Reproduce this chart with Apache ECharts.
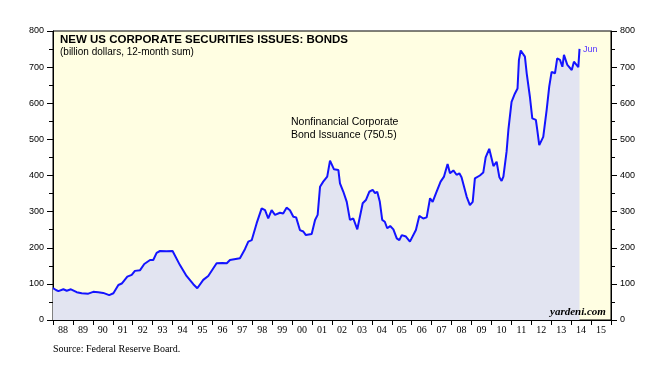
<!DOCTYPE html>
<html>
<head>
<meta charset="utf-8">
<script src="https://cdn.jsdelivr.net/npm/echarts@6/dist/echarts.min.js"></script>
<style>
html,body{margin:0;padding:0;background:#fff;}
#c{width:664px;height:369px;}
</style>
</head>
<body>
<div id="c"></div>
<script>
// Time (decimal year) of each reading
var dates = [1988.00,1988.15,1988.27,1988.52,1988.69,1988.90,1989.19,1989.44,1989.77,1990.02,
1990.27,1990.52,1990.82,1991.03,1991.28,1991.45,1991.73,1991.95,1992.11,1992.37,
1992.58,1992.87,1993.03,1993.20,1993.37,1993.70,1994.00,1994.37,1994.70,1995.04,
1995.24,1995.54,1995.79,1996.21,1996.50,1996.72,1996.88,1997.38,1997.47,1997.63,
1997.80,1997.97,1998.22,1998.47,1998.64,1998.80,1998.97,1999.14,1999.39,1999.55,
1999.72,1999.89,2000.06,2000.20,2000.39,2000.56,2000.69,2000.98,2001.15,2001.28,
2001.40,2001.56,2001.76,2001.90,2001.98,2002.10,2002.32,2002.40,2002.57,2002.74,
2002.90,2003.07,2003.27,2003.54,2003.70,2003.87,2004.04,2004.16,2004.27,2004.40,
2004.52,2004.65,2004.77,2004.92,2005.08,2005.25,2005.38,2005.50,2005.71,2005.91,
2006.00,2006.21,2006.38,2006.58,2006.75,2006.92,2007.05,2007.22,2007.45,2007.62,
2007.80,2007.92,2008.09,2008.25,2008.39,2008.50,2008.76,2008.92,2009.06,2009.17,
2009.26,2009.42,2009.59,2009.71,2009.80,2009.89,2009.98,2010.10,2010.26,2010.40,
2010.51,2010.60,2010.76,2010.85,2011.01,2011.18,2011.31,2011.38,2011.47,2011.57,
2011.68,2011.77,2011.93,2012.05,2012.13,2012.23,2012.30,2012.40,2012.49,2012.60,
2012.77,2012.90,2013.02,2013.19,2013.30,2013.44,2013.56,2013.64,2013.74,2013.81,
2013.91,2014.03,2014.14,2014.24,2014.36,2014.42];
// Nonfinancial corporate bond issuance, billion dollars, 12-month sum
var bonds = [88,83,80,85,81,85,77,74,73,78,
77,75,69,74,97,101,120,125,136,138,
155,166,166,186,191,190,191,152,122,99,
88,111,122,157,158,157,166,171,180,196,
217,221,268,309,304,281,304,291,297,295,
311,304,286,284,249,245,235,238,277,291,
369,383,397,441,443,417,415,378,355,327,
277,281,251,323,332,355,360,351,355,327,
277,272,254,260,251,226,221,235,231,217,
217,249,288,281,284,337,327,351,383,397,
432,406,414,402,406,395,341,318,327,392,
388,400,408,450,452,474,474,426,438,395,
385,397,466,526,604,627,641,720,746,746,
729,683,618,558,563,554,526,484,484,507,
581,646,687,683,724,720,701,734,729,706,
711,692,715,711,700,750.5];
var yearLabels = ['88','89','90','91','92','93','94','95','96','97','98','99',
'00','01','02','03','04','05','06','07','08','09','10','11','12','13','14','15'];
var yTicks = {min:0, max:800, interval:100};

var pts = dates.map(function(d,i){return [d, bonds[i]];});

var chart = echarts.init(document.getElementById('c'), null, {renderer:'canvas'});
var yAxisCommon = {
  type:'value', min:yTicks.min, max:yTicks.max, interval:yTicks.interval,
  axisLine:{show:true, lineStyle:{color:'#000', width:1}},
  axisTick:{show:true, length:6, lineStyle:{color:'#000'}},
  minorTick:{show:true, splitNumber:2, length:4, lineStyle:{color:'#000'}},
  splitLine:{show:false},
  axisLabel:{color:'#000', fontFamily:'Liberation Sans, Arial', fontSize:9, margin:9}
};
chart.setOption({
  animation:false,
  backgroundColor:'#fff',
  grid:{left:53, right:53, top:31, bottom:49, show:true, backgroundColor:'#fffee2', borderColor:'#000', borderWidth:1},
  xAxis:[
    {type:'value', min:1988, max:2016, show:false},
    {type:'category', data:yearLabels, boundaryGap:true, position:'bottom',
     axisLine:{show:true, lineStyle:{color:'#000'}},
     axisTick:{show:true, length:5, lineStyle:{color:'#000'}},
     axisLabel:{color:'#000', fontFamily:'Liberation Serif, Times New Roman', fontSize:10, margin:5},
     splitLine:{show:false}}
  ],
  yAxis:[
    Object.assign({position:'left'}, yAxisCommon),
    Object.assign({position:'right'}, yAxisCommon)
  ],
  series:[{
    type:'line', xAxisIndex:0, yAxisIndex:0, data:pts, showSymbol:false,
    lineStyle:{color:'#1414ff', width:2},
    areaStyle:{color:'#e2e4f1', opacity:1, origin:'start'},
    z:3
  }],
  graphic:[
    {type:'text', z:100, left:60, top:34, style:{text:'NEW US CORPORATE SECURITIES ISSUES: BONDS', font:'bold 11.5px Liberation Sans, Arial', fill:'#000'}},
    {type:'text', z:100, left:60, top:47, style:{text:'(billion dollars, 12-month sum)', font:'10px Liberation Sans, Arial', fill:'#000'}},
    {type:'text', z:100, left:291, top:116, style:{text:'Nonfinancial Corporate\nBond Issuance (750.5)', font:'10.5px Liberation Sans, Arial', lineHeight:13, fill:'#000'}},
    {type:'text', z:100, left:583, top:45, style:{text:'Jun', font:'9px Liberation Sans, Arial', fill:'#5533ff'}},
    {type:'text', z:100, left:550, top:307, style:{text:'yardeni.com', font:'italic bold 11px Liberation Serif, Times New Roman', fill:'#000'}},
    {type:'text', z:100, left:53, top:344, style:{text:'Source: Federal Reserve Board.', font:'10px Liberation Serif, Times New Roman', fill:'#000'}}
  ]
});
</script>
</body>
</html>
